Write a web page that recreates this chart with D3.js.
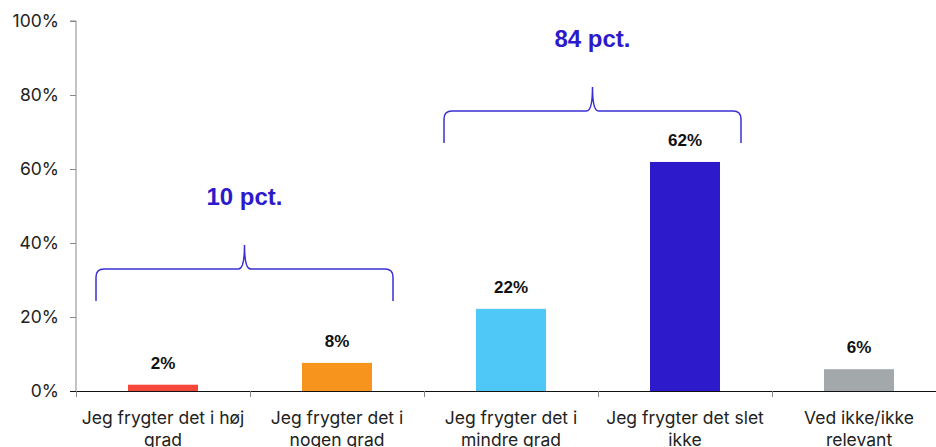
<!DOCTYPE html>
<html>
<head>
<meta charset="utf-8">
<script src="https://cdn.jsdelivr.net/npm/d3@7"></script>
<style>
  body { margin: 0; background: #fff; }
  svg { display: block; font-family: Inter, "Liberation Sans", Arial, sans-serif; }
</style>
</head>
<body>
<svg id="chart" width="936" height="447"></svg>
<script>
// data
var categories = [
  ["Jeg frygter det i høj", "grad"],
  ["Jeg frygter det i", "nogen grad"],
  ["Jeg frygter det i", "mindre grad"],
  ["Jeg frygter det slet", "ikke"],
  ["Ved ikke/ikke", "relevant"]
];
var values = [1.7, 7.6, 22.2, 61.9, 5.9];
var colors = ["#f5473a", "#f7941d", "#4fc8f8", "#2c1acb", "#a3a9ab"];
var yTicks = [0, 20, 40, 60, 80, 100];
// brace groups: first and last category index, level (%) of the brace
var groups = [
  { from: 0, to: 1, level: 33 },
  { from: 2, to: 3, level: 75.7 }
];

var svg = d3.select("#chart");
var mLeft = 76, mTop = 21, mBottom = 391, band = 174;

var x = d3.scaleBand()
  .domain(d3.range(categories.length))
  .range([mLeft, mLeft + band * categories.length])
  .paddingInner(0).paddingOuter(0);

var y = d3.scaleLinear().domain([0, 100]).range([mBottom, mTop]);

// y axis
var yAxis = svg.append("g").attr("transform", "translate(" + mLeft + ",0)")
  .call(d3.axisLeft(y).tickValues(yTicks).tickSize(6).tickPadding(11)
    .tickFormat(function(d) { return d + "%"; }));
yAxis.select(".domain").attr("stroke", "#888").attr("d", "M-6," + mTop + "H0V" + mBottom);
yAxis.selectAll(".tick line").attr("stroke", "#888");
yAxis.selectAll(".tick text").attr("fill", "#222").style("font-size", "17.5px")
  .style("font-family", "Inter, sans-serif");

// bars
svg.selectAll("rect.bar").data(values).enter().append("rect")
  .attr("class", "bar")
  .attr("x", function(d, i) { return x(i) + x.bandwidth() / 2 - 35; })
  .attr("width", 70)
  .attr("y", function(d) { return y(d); })
  .attr("height", function(d) { return y(0) - y(d); })
  .attr("fill", function(d, i) { return colors[i]; });

// value labels
svg.selectAll("text.val").data(values).enter().append("text")
  .attr("class", "val")
  .attr("x", function(d, i) { return x(i) + x.bandwidth() / 2; })
  .attr("y", function(d) { return y(d) - 16; })
  .attr("text-anchor", "middle")
  .style("font-family", "'Liberation Sans', Arial, sans-serif")
  .style("font-size", "17px").style("font-weight", "bold").attr("fill", "#111")
  .text(function(d) { return Math.round(d) + "%"; });

// x axis
svg.append("line").attr("x1", mLeft - 6).attr("x2", 936)
  .attr("y1", mBottom + 0.5).attr("y2", mBottom + 0.5).attr("stroke", "#111");
svg.selectAll("line.xt").data(d3.range(categories.length)).enter().append("line")
  .attr("class", "xt")
  .attr("x1", function(i) { return x(i) + 0.5; }).attr("x2", function(i) { return x(i) + 0.5; })
  .attr("y1", mBottom).attr("y2", mBottom + 6).attr("stroke", "#888");

var cat = svg.selectAll("text.cat").data(categories).enter().append("text")
  .attr("class", "cat")
  .attr("x", function(d, i) { return x(i) + x.bandwidth() / 2; })
  .attr("y", 424)
  .attr("text-anchor", "middle")
  .style("font-size", "17.5px").attr("fill", "#222");
cat.each(function(d) {
  var t = d3.select(this);
  d.forEach(function(line, k) {
    t.append("tspan").attr("x", t.attr("x")).attr("dy", k ? 22 : 0).text(line);
  });
});

// braces
groups.forEach(function(g) {
  var x0 = x(g.from) + 20, x1 = x(g.to) + x.bandwidth() - 31;
  var xm = (x0 + x1) / 2;
  var yl = y(g.level), yb = yl + 32, yp = yl - 24;
  var r = 8;
  var p = d3.path();
  p.moveTo(x0, yb);
  p.lineTo(x0, yl + r);
  p.quadraticCurveTo(x0, yl, x0 + r, yl);
  p.lineTo(xm - 6, yl);
  p.quadraticCurveTo(xm, yl, xm, yp);
  p.quadraticCurveTo(xm, yl, xm + 6, yl);
  p.lineTo(x1 - r, yl);
  p.quadraticCurveTo(x1, yl, x1, yl + r);
  p.lineTo(x1, yb);
  svg.append("path").attr("d", p.toString())
    .attr("fill", "none").attr("stroke", "#3b2fd4").attr("stroke-width", 1.5);

  var total = d3.sum(values.slice(g.from, g.to + 1).map(Math.round));
  svg.append("text").attr("x", xm).attr("y", yp - 40)
    .attr("text-anchor", "middle")
    .style("font-family", "'Liberation Sans', Arial, sans-serif")
    .style("font-size", "24px").style("font-weight", "bold").attr("fill", "#2c1acb")
    .text(total + " pct.");
});
</script>
</body>
</html>
